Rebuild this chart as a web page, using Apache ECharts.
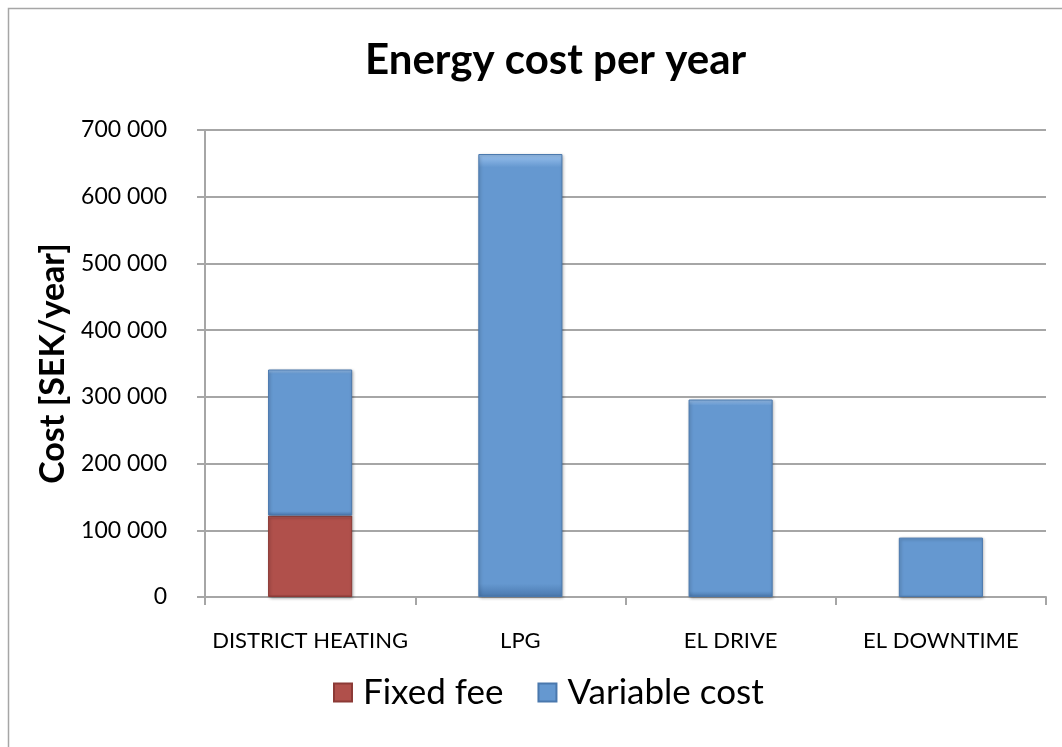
<!DOCTYPE html>
<html lang="en">
<head>
    <meta charset="UTF-8">
    <title>Energy cost per year</title>
    <script src="https://cdn.jsdelivr.net/npm/echarts@6/dist/echarts.min.js"></script>
    <style>
        body { margin: 0; background: #fff; }
    </style>
</head>
<body>
    <div id="chart" style="width: 1062px; height: 747px;"></div>
    <script>
        const categories = ['DISTRICT HEATING', 'LPG', 'EL DRIVE', 'EL DOWNTIME'];
        const fixedFee = [122000, null, null, null];
        const variableCost = [219000, 664000, 296000, 89000];

        const font = 'Lato, "Open Sans", sans-serif';
        const myChart = echarts.init(document.getElementById('chart'));

        // bevel-ish look like the office chart
        function bevel(base, light, dark) {
            return {
                color: new echarts.graphic.LinearGradient(0, 0, 0, 1, [
                    { offset: 0, color: light },
                    { offset: 0.03, color: base },
                    { offset: 0.97, color: base },
                    { offset: 1, color: dark }
                ]),
                borderColor: dark,
                borderWidth: 1,
                shadowColor: 'rgba(0,0,0,0.3)',
                shadowBlur: 3,
                shadowOffsetX: 1,
                shadowOffsetY: 1
            };
        }

        let option = {
            animation: false,
            backgroundColor: '#fff',
            title: {
                text: 'Energy cost per year',
                left: 360,
                top: 34,
                textStyle: { fontFamily: font, fontSize: 42, fontWeight: 'bold', color: '#000' }
            },
            legend: {
                top: 670,
                left: 328,
                itemWidth: 18,
                itemHeight: 18,
                itemGap: 34,
                icon: 'rect',
                textStyle: { fontFamily: font, fontSize: 35, color: '#000', padding: [0, 0, 0, 6] },
                data: ['Fixed fee', 'Variable cost']
            },
            grid: {
                left: 205,
                right: 16,
                top: 130,
                bottom: 150
            },
            xAxis: {
                type: 'category',
                data: categories,
                axisLine: { lineStyle: { color: '#a6a6a6', width: 2 } },
                axisTick: { show: true, length: 8, lineStyle: { color: '#a6a6a6', width: 2 } },
                axisLabel: { fontFamily: font, fontSize: 22, color: '#000', margin: 33, interval: 0 }
            },
            yAxis: {
                type: 'value',
                min: 0,
                max: 700000,
                interval: 100000,
                name: 'Cost [SEK/year]',
                nameLocation: 'middle',
                nameGap: 135,
                nameTextStyle: { fontFamily: font, fontSize: 34, fontWeight: 'bold', color: '#000' },
                axisLine: { show: true, lineStyle: { color: '#a6a6a6', width: 2 } },
                axisTick: { show: true, length: 8, lineStyle: { color: '#a6a6a6', width: 2 } },
                splitLine: { lineStyle: { color: '#a6a6a6', width: 2 } },
                axisLabel: {
                    fontFamily: font, fontSize: 23, color: '#000', margin: 38,
                    formatter: v => v.toString().replace(/\B(?=(\d{3})+(?!\d))/g, ' ')
                }
            },
            series: [
                {
                    name: 'Fixed fee',
                    type: 'bar',
                    stack: 'cost',
                    barWidth: '40%',
                    itemStyle: bevel('#b0504b', '#d9807b', '#8c3a36'),
                    data: fixedFee
                },
                {
                    name: 'Variable cost',
                    type: 'bar',
                    stack: 'cost',
                    barWidth: '40%',
                    itemStyle: bevel('#6598d0', '#9cc3ef', '#4a78ad'),
                    data: variableCost
                }
            ],
            graphic: [
                {
                    type: 'rect',
                    shape: { x: 8.5, y: 8.5, width: 1100, height: 800 },
                    style: { fill: 'none', stroke: '#a6a6a6', lineWidth: 1.5 },
                    silent: true
                }
            ]
        };

        myChart.setOption(option);
    </script>
</body>
</html>
